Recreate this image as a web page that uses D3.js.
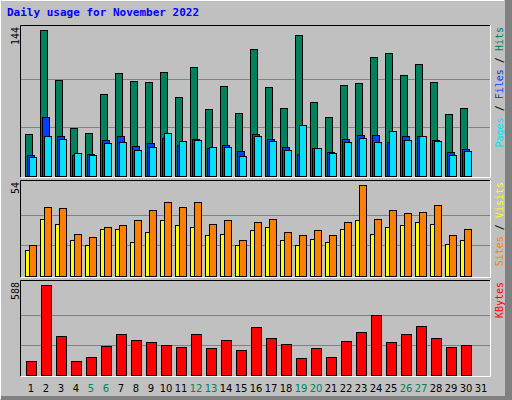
<!DOCTYPE html>
<html><head><meta charset="utf-8">
<script src="https://cdn.jsdelivr.net/npm/d3@7"></script>
<style>body{margin:0;background:#fff}</style>
</head><body>
<svg id="chart" width="512" height="400"></svg>
<script>
var days = d3.range(1, 32);
var weekends = [5, 6, 12, 13, 19, 20, 26, 27];
var hits  = [41,144,95,47,42,81,101,94,93,102,78,107,66,89,62,125,88,67,139,73,58,90,92,117,121,99,110,93,61,67];
var files = [20,58,39,20,21,35,39,29,32,37,30,36,27,30,24,41,36,28,21,27,23,36,40,40,33,39,39,35,23,26];
var pages = [18,39,36,22,20,32,33,25,28,42,34,35,28,28,19,39,34,25,50,27,22,33,37,33,44,35,39,34,20,24];
var visits = [15,34,31,21,18,28,28,20,26,33,30,29,24,25,18,27,29,21,18,22,20,28,33,25,29,30,32,31,19,21];
var sites  = [18,41,40,25,23,29,30,33,39,44,41,44,31,33,21,32,34,26,24,27,24,32,54,34,39,37,38,42,24,28];
var kbytes = [90,588,252,90,116,187,265,226,213,194,181,265,174,226,162,310,239,200,110,174,116,220,278,394,213,265,317,239,181,194];

var svg = d3.select("#chart");
var mono = "'DejaVu Sans Mono', monospace";

// frame
svg.append("rect").attr("width", 512).attr("height", 400).attr("fill", "#c0c0c0");
svg.append("rect").attr("x", 505).attr("y", 0).attr("width", 7).attr("height", 400).attr("fill", "#808080");
svg.append("rect").attr("x", 0).attr("y", 396).attr("width", 512).attr("height", 4).attr("fill", "#808080");
svg.append("path").attr("d", "M0.5,399.5V0.5H504").attr("stroke", "#fff").attr("fill", "none");

svg.append("text").attr("x", 7).attr("y", 16).text("Daily usage for November 2022")
	.attr("font-family", mono).attr("font-weight", "bold").attr("font-size", 11).attr("fill", "#0000ff");

var x = d3.scaleLinear().domain([1, 31]).range([25, 475]);

function panel(top, bottom, max) {
	// inset box
	svg.append("path").attr("d", "M20.5," + bottom + "V" + top + ".5H491").attr("stroke", "#000").attr("fill", "none");
	svg.append("path").attr("d", "M21," + (bottom + 0.5) + "H490.5V" + top).attr("stroke", "#fff").attr("fill", "none");
	var y = d3.scaleLinear().domain([0, max]).range([bottom - 1.5, top + 5]);
	[1, 2].forEach(function(k) {
		var gy = Math.round(y(max * k / 3)) + 0.5;
		svg.append("line").attr("x1", 21).attr("x2", 490).attr("y1", gy).attr("y2", gy)
			.attr("stroke", "#808080");
	});
	svg.append("text").text(max)
		.attr("transform", "translate(19," + (top + 2) + ") rotate(-90)")
		.attr("text-anchor", "end").attr("font-family", mono).attr("font-size", 10).attr("fill", "#000");
	return y;
}

function bars(data, y, dx, w, color) {
	svg.append("g").selectAll("rect").data(data).enter().append("rect")
		.attr("x", function(d, i) { return x(i + 1) + dx + 0.5; })
		.attr("y", function(d) { return Math.round(y(d)) + 0.5; })
		.attr("width", w)
		.attr("height", function(d) { return Math.round(y(0)) - Math.round(y(d)); })
		.attr("fill", color).attr("stroke", "#000");
}

function sideLabel(parts, yTop) {
	var t = svg.append("text")
		.attr("transform", "translate(503," + (yTop + 2) + ") rotate(-90)")
		.attr("text-anchor", "end").attr("font-family", mono).attr("font-size", 10);
	parts.forEach(function(p) { t.append("tspan").text(p[0]).attr("fill", p[1]); });
}

var y1 = panel(25, 177, 144);
bars(hits, y1, 0, 7, "#00805c");
bars(files, y1, 2, 7, "#0040ff");
bars(pages, y1, 4, 7, "#00e0ff");
sideLabel([["Pages", "#00e0ff"], [" / ", "#000"], ["Files", "#0040ff"], [" / ", "#000"], ["Hits", "#00805c"]], 25);

var y2 = panel(180, 277, 54);
bars(visits, y2, 0, 5, "#ffff00");
bars(sites, y2, 4, 7, "#ff8000");
sideLabel([["Sites", "#ff8000"], [" / ", "#000"], ["Visits", "#ffff00"]], 180);

var y3 = panel(280, 376, 588);
bars(kbytes, y3, 1, 10, "#ff0000");
sideLabel([["KBytes", "#ff0000"]], 280);

svg.append("g").selectAll("text").data(days).enter().append("text")
	.attr("x", function(d) { return x(d) + 6; })
	.attr("y", 392)
	.attr("text-anchor", "middle").attr("font-family", "'DejaVu Sans', sans-serif").attr("font-size", 10)
	.attr("fill", function(d) { return weekends.indexOf(d) >= 0 ? "#00805c" : "#000"; })
	.text(function(d) { return d; });
</script>
</body></html>
